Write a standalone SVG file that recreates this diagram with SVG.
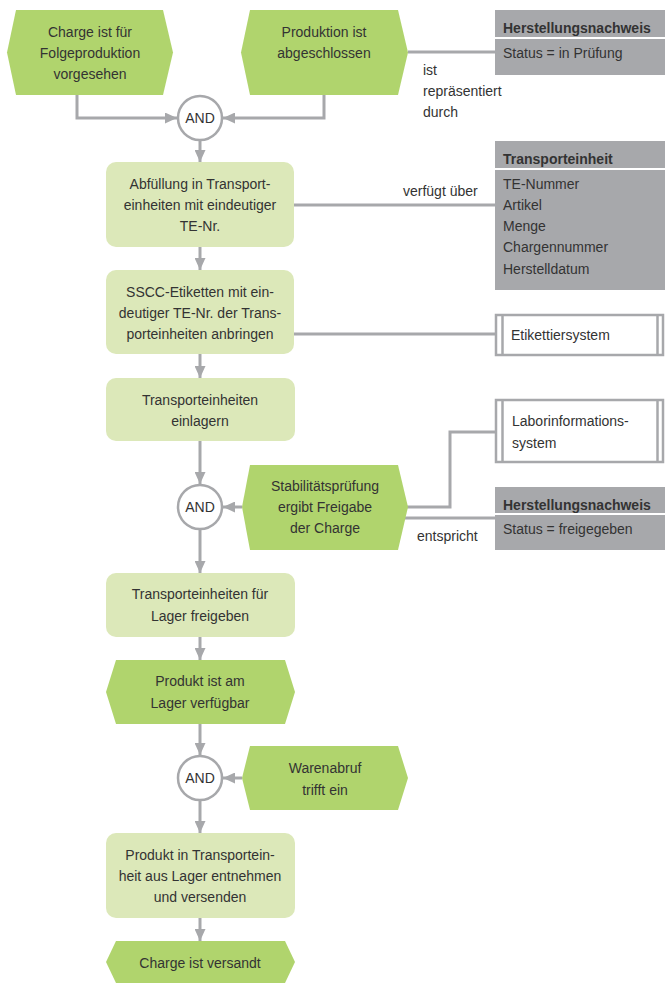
<svg xmlns="http://www.w3.org/2000/svg" width="665" height="983" viewBox="0 0 665 983">
<style>
text{font-family:"Liberation Sans",Arial,sans-serif;font-size:14px;fill:#333}
.c{text-anchor:middle}
.b{font-weight:bold}
.ev{fill:#b0d46d}
.fn{fill:#dce8b9}
.gb{fill:#a7a8ab}
.sys{fill:#fff;stroke:#a7a8ab;stroke-width:2.5}
.ln{fill:none;stroke:#a7a8ab;stroke-width:3}
.and{fill:#fff;stroke:#a7a8ab;stroke-width:2.5}
</style>
<defs>
<marker id="ah" markerUnits="userSpaceOnUse" markerWidth="12" markerHeight="11" refX="12" refY="5.5" orient="auto">
<path d="M0,0 L12,5.5 L0,11 z" fill="#a7a8ab"/>
</marker>
</defs>
<g id="connectors">
<path class="ln" d="M77,95 V118 H177" marker-end="url(#ah)"/>
<path class="ln" d="M324,95 V118 H223" marker-end="url(#ah)"/>
<path class="ln" d="M200,141 V162" marker-end="url(#ah)"/>
<path class="ln" d="M408,52 H495"/>
<path class="ln" d="M200,247 V270" marker-end="url(#ah)"/>
<path class="ln" d="M294,205 H495"/>
<path class="ln" d="M294,334 H496"/>
<path class="ln" d="M200,354 V378" marker-end="url(#ah)"/>
<path class="ln" d="M200,441 V484" marker-end="url(#ah)"/>
<path class="ln" d="M242,507 H223" marker-end="url(#ah)"/>
<path class="ln" d="M406,507 H450 V432 H496"/>
<path class="ln" d="M403,518 H495"/>
<path class="ln" d="M200,530 V573" marker-end="url(#ah)"/>
<path class="ln" d="M200,637 V660" marker-end="url(#ah)"/>
<path class="ln" d="M200,724 V755" marker-end="url(#ah)"/>
<path class="ln" d="M242,778 H223" marker-end="url(#ah)"/>
<path class="ln" d="M200,801 V833" marker-end="url(#ah)"/>
<path class="ln" d="M200,918 V941" marker-end="url(#ah)"/>
<text x="423" y="75">ist</text>
<text x="423" y="96">repräsentiert</text>
<text x="423" y="117">durch</text>
<text x="403" y="196">verfügt über</text>
<text x="417" y="541">entspricht</text>
</g>
<g id="e1">
<polygon class="ev" points="7,52.5 16,10 163,10 173,52.5 163,95 16,95"/>
<text class="c" x="90" y="37">Charge ist für</text>
<text class="c" x="90" y="58">Folgeproduktion</text>
<text class="c" x="90" y="79">vorgesehen</text>
</g>
<g id="e2">
<polygon class="ev" points="241,52.5 250,10 398,10 408,52.5 398,95 250,95"/>
<text class="c" x="324" y="37">Produktion ist</text>
<text class="c" x="324" y="58">abgeschlossen</text>
</g>
<g id="and1">
<circle class="and" cx="200" cy="118" r="22"/>
<text class="c" x="200" y="123">AND</text>
</g>
<g id="hn1">
<rect class="gb" x="495" y="10" width="170" height="65"/>
<rect x="495" y="37" width="170" height="2" fill="#fff"/>
<text class="b" x="503" y="33">Herstellungsnachweis</text>
<text x="503" y="58">Status = in Prüfung</text>
</g>
<g id="f1">
<rect class="fn" x="106" y="162" width="188" height="85" rx="10"/>
<text class="c" x="200" y="189">Abfüllung in Transport-</text>
<text class="c" x="200" y="210">einheiten mit eindeutiger</text>
<text class="c" x="200" y="231">TE-Nr.</text>
</g>
<g id="te">
<rect class="gb" x="495" y="141" width="170" height="149"/>
<rect x="495" y="168" width="170" height="2" fill="#fff"/>
<text class="b" x="503" y="164">Transporteinheit</text>
<text x="503" y="189">TE-Nummer</text>
<text x="503" y="210">Artikel</text>
<text x="503" y="231">Menge</text>
<text x="503" y="252">Chargennummer</text>
<text x="503" y="274">Herstelldatum</text>
</g>
<g id="f2">
<rect class="fn" x="106" y="270" width="188" height="84" rx="10"/>
<text class="c" x="200" y="297">SSCC-Etiketten mit ein-</text>
<text class="c" x="200" y="318">deutiger TE-Nr. der Trans-</text>
<text class="c" x="200" y="339">porteinheiten anbringen</text>
</g>
<g id="etik">
<rect class="sys" x="496" y="315" width="167" height="40"/>
<line x1="502.5" y1="315" x2="502.5" y2="355" stroke="#a7a8ab" stroke-width="2.5"/>
<line x1="657.5" y1="315" x2="657.5" y2="355" stroke="#a7a8ab" stroke-width="2.5"/>
<text x="511" y="340">Etikettiersystem</text>
</g>
<g id="f3">
<rect class="fn" x="106" y="378" width="189" height="63" rx="10"/>
<text class="c" x="200" y="405">Transporteinheiten</text>
<text class="c" x="200" y="426">einlagern</text>
</g>
<g id="lis">
<rect class="sys" x="496" y="400" width="167" height="62"/>
<line x1="502.5" y1="400" x2="502.5" y2="462" stroke="#a7a8ab" stroke-width="2.5"/>
<line x1="657.5" y1="400" x2="657.5" y2="462" stroke="#a7a8ab" stroke-width="2.5"/>
<text x="512" y="426">Laborinformations-</text>
<text x="512" y="448">system</text>
</g>
<g id="and2">
<circle class="and" cx="200" cy="507" r="22"/>
<text class="c" x="200" y="512">AND</text>
</g>
<g id="e3">
<polygon class="ev" points="242,507 250,465 398,465 408,507 398,550 250,550"/>
<text class="c" x="325" y="491">Stabilitätsprüfung</text>
<text class="c" x="325" y="512">ergibt Freigabe</text>
<text class="c" x="325" y="533">der Charge</text>
</g>
<g id="hn2">
<rect class="gb" x="495" y="487" width="170" height="63"/>
<rect x="495" y="513" width="170" height="2" fill="#fff"/>
<text class="b" x="503" y="510">Herstellungsnachweis</text>
<text x="503" y="534">Status = freigegeben</text>
</g>
<g id="f4">
<rect class="fn" x="106" y="573" width="189" height="64" rx="10"/>
<text class="c" x="200" y="599">Transporteinheiten für</text>
<text class="c" x="200" y="621">Lager freigeben</text>
</g>
<g id="e4">
<polygon class="ev" points="106,692 116,660 285,660 295,692 285,724 116,724"/>
<text class="c" x="200" y="686">Produkt ist am</text>
<text class="c" x="200" y="708">Lager verfügbar</text>
</g>
<g id="and3">
<circle class="and" cx="200" cy="778" r="22"/>
<text class="c" x="200" y="783">AND</text>
</g>
<g id="e5">
<polygon class="ev" points="242,778 250,746 398,746 408,778 398,810 250,810"/>
<text class="c" x="325" y="773">Warenabruf</text>
<text class="c" x="325" y="795">trifft ein</text>
</g>
<g id="f5">
<rect class="fn" x="106" y="833" width="189" height="85" rx="10"/>
<text class="c" x="200" y="860">Produkt in Transportein-</text>
<text class="c" x="200" y="881">heit aus Lager entnehmen</text>
<text class="c" x="200" y="902">und versenden</text>
</g>
<g id="e6">
<polygon class="ev" points="106,962 116,941 285,941 295,962 285,983 116,983"/>
<text class="c" x="200" y="968">Charge ist versandt</text>
</g>
</svg>
